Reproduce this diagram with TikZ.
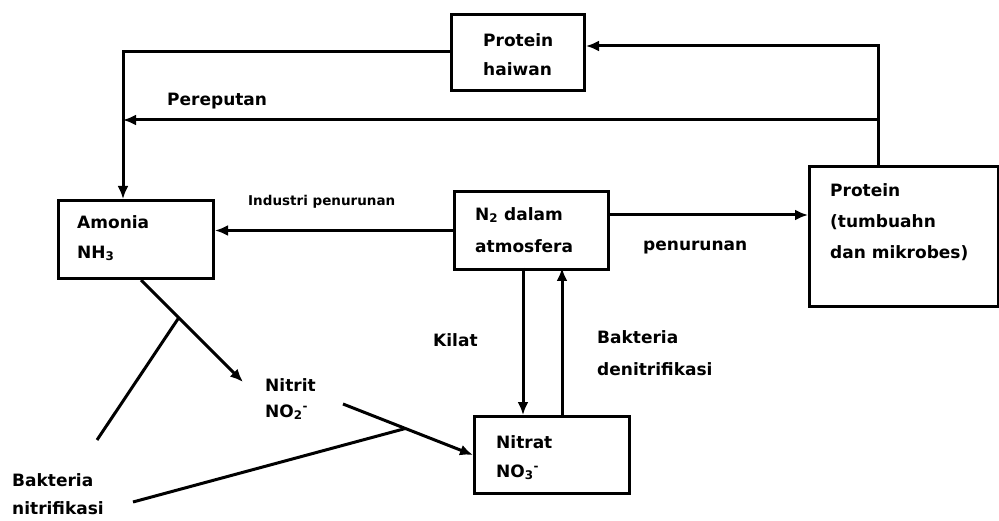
\documentclass[tikz,border=0pt]{standalone}
\usepackage{fontspec}
\setmainfont{DejaVu Sans}
\usetikzlibrary{arrows.meta,positioning}
\tikzset{
  kotak/.style={draw=black,line width=3pt,inner sep=0pt,anchor=north west},
  teks/.style={font=\bfseries\fontsize{17}{#1}\selectfont,align=left,inner sep=0pt,anchor=north west},
  teks/.default=30,
  kecil/.style={font=\bfseries\fontsize{13.5}{16}\selectfont,inner sep=0pt,anchor=west},
  garis/.style={draw=black,line width=3pt},
  panah/.style={garis,-{Latex[length=13pt,width=11pt]}},
}

\begin{document}
\begin{tikzpicture}[x=1pt,y=-1pt]
\useasboundingbox[fill=white] (0,0) rectangle (999,521);

% kotak-kotak
\node[kotak,minimum width=133pt,minimum height=76pt] (haiwan) at (450,13) {};
\node[kotak,minimum width=155pt,minimum height=78pt] (amonia) at (57,199) {};
\node[kotak,minimum width=154pt,minimum height=78pt] (atm) at (453,190) {};
\node[kotak,minimum width=189pt,minimum height=140pt] (tumbuhan) at (808,165) {};
\node[kotak,minimum width=155pt,minimum height=77pt] (nitrat) at (473,415) {};

% teks dalam kotak
\node[teks=29] (haiwantxt) at (483,33) {Protein\\haiwan};
\node[teks] (amoniatxt) at (77,215) {Amonia\\NH\textsubscript{3}};
\node[teks=32] (atmtxt) at (475,207) {N\textsubscript{2} dalam\\atmosfera};
\node[teks=31] (tumbuhantxt) at (830,183) {Protein\\(tumbuahn\\dan mikrobes)};
\node[teks=29] (nitrattxt) at (496,435) {Nitrat\\NO\textsubscript{3}\textsuperscript{-}};

% label
\node[teks] (pereputan) at (167,93) {Pereputan};
\node[kecil] (industri) at (248,202) {Industri penurunan};
\node[teks,anchor=base west] (penurunan) at (643,251) {penurunan};
\node[teks] (kilat) at (433,333) {Kilat};
\node[teks=32] (denitri) at (597,330) {Bakteria\\denitrifikasi};
\node[teks=26] (nitrit) at (265,378) {Nitrit\\NO\textsubscript{2}\textsuperscript{-}};
\node[teks=28] (nitri) at (12,473) {Bakteria\\nitrifikasi};

% titik bebas
\coordinate (sudut) at (878,46);
\coordinate (cabang) at (878,120);
\coordinate (kiri) at (123,52);
\coordinate (kanan) at (607,215);
\coordinate (turun) at (523,268);
\coordinate (naik) at (562,268);
\coordinate (ujung1) at (243,382);
\coordinate (mula2) at (343,404);
\coordinate (hujung1) at (97,440);
\coordinate (hujung2) at (133,502);

% anak panah
\draw[panah] (tumbuhan.north -| sudut) -- (sudut) -- (haiwan.east |- sudut);
\draw[panah] (haiwan.west |- kiri) -- (kiri) -- (amonia.north -| kiri);
\draw[panah] (cabang) -- (kiri |- cabang);
\draw[panah] (atm.west) -- (amonia.east |- atm.west);
\draw[panah] (kanan) -- (tumbuhan.west |- kanan);
\draw[panah] (turun) -- (nitrat.north -| turun);
\draw[panah] (nitrat.north -| naik) -- (naik);
\draw[panah] ([xshift=5pt]amonia.south) -- coordinate[pos=.37] (c1) (ujung1);
\draw[panah] (mula2) -- coordinate[pos=.48] (c2) (nitrat.west);
\draw[garis] (c1) -- (hujung1);
\draw[garis] (c2) -- (hujung2);
\end{tikzpicture}
\end{document}
